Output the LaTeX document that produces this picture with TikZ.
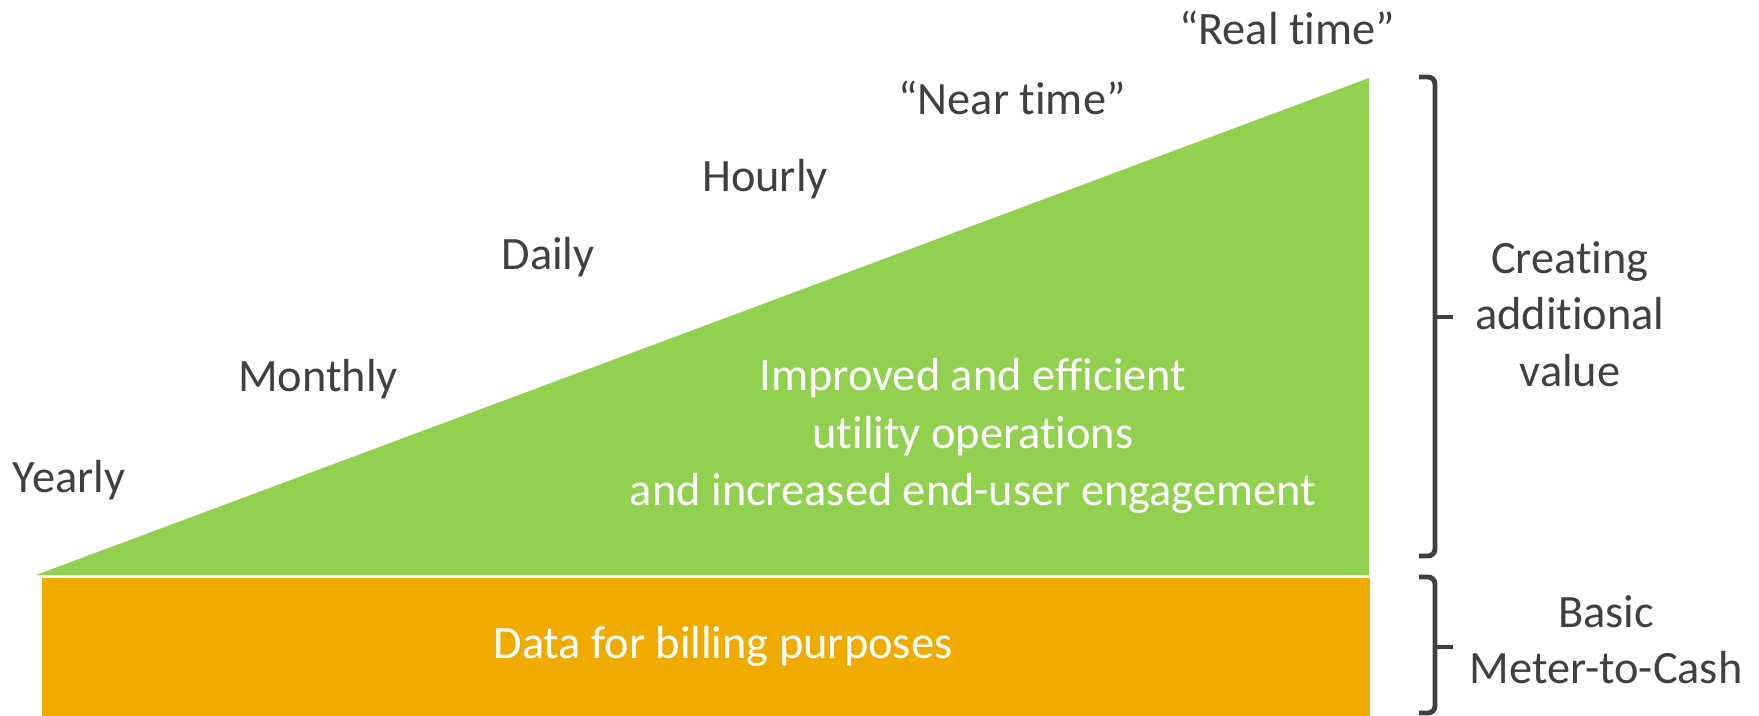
\documentclass[tikz,border=0pt]{standalone}
\usepackage{fontspec}
\setmainfont{Carlito}[Ligatures=NoCommon]
\definecolor{meadow}{HTML}{92D050}
\definecolor{amber}{HTML}{F0AB00}
\definecolor{ink}{HTML}{404040}
\tikzset{
	rate/.style={text=ink, anchor=base, inner sep=0pt, font=\fontsize{26.4}{32.4}\selectfont},
	inner/.style={text=white, align=center, inner sep=0pt, font=\fontsize{26.4}{32.8}\selectfont},
	side/.style={text=ink, align=center, inner sep=0pt, font=\fontsize{26.4}{32}\selectfont},
	brace/.style={draw=ink, line width=2.8pt, rounded corners=4pt}
}

\begin{document}
\begin{tikzpicture}[x=0.02cm, y=-0.02cm]
	\useasboundingbox (0,0) rectangle (1759,716);
	
	%areas
	\coordinate (tl) at (36,575);
	\coordinate (tt) at (1369,78);
	\coordinate (tr) at (1369,575);
	\fill[meadow] (tl) -- (tt) -- (tr) -- cycle;
	\fill[amber] (42,578) rectangle (1370,716);
	
	%rates
	\node[rate] (yearly) at (69,492){Yearly};
	\node[rate] (monthly) at (318,392){Monthly};
	\node[rate] (daily) at (548,270){Daily};
	\node[rate] (hourly) at (765,192){Hourly};
	\node[rate] (near) at (1012,115){“Near time”};
	\node[rate] (real) at (1287,45){“Real time”};
	
	%inside texts
	\node[inner] (ops) at (973,436){Improved and efficient\\utility operations\\and increased end-user engagement};
	\node[inner, anchor=base] (bill) at (723,658){Data for billing purposes};
	
	%braces
	\coordinate (b1) at (1419,77);
	\coordinate (b2) at (1435,317);
	\coordinate (b3) at (1419,556);
	\coordinate (b1tip) at (1453,317);
	\draw[brace] (b1) -| (b2) |- (b3);
	\draw[brace, rounded corners=0pt] (b2) -- (b1tip);
	
	\coordinate (c1) at (1419,577);
	\coordinate (c2) at (1435,647);
	\coordinate (c3) at (1419,713);
	\coordinate (c1tip) at (1453,647);
	\draw[brace] (c1) -| (c2) |- (c3);
	\draw[brace, rounded corners=0pt] (c2) -- (c1tip);
	
	\node[side] (value) at (1570,314){Creating\\additional\\value};
	\node[side] (basic) at (1606,640){Basic\\Meter-to-Cash};
	
\end{tikzpicture}
\end{document}
